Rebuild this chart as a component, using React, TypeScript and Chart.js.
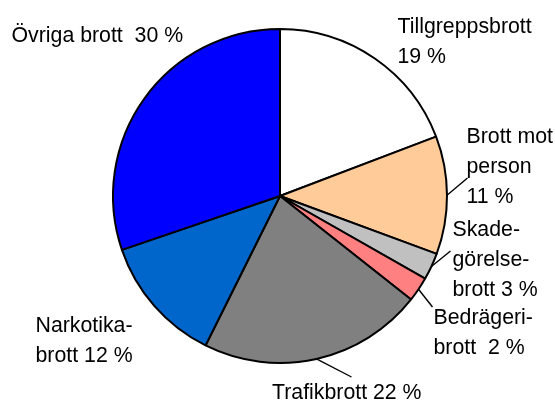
import { useEffect, useRef } from 'react';
import Chart from 'chart.js/auto';

// slices, clockwise from 12 o'clock
const categories = [
  'Tillgreppsbrott',
  'Brott mot person',
  'Skadegörelsebrott',
  'Bedrägeribrott',
  'Trafikbrott',
  'Narkotikabrott',
  'Övriga brott',
];
const shares = [19.2, 11.4, 2.6, 2.4, 21.7, 12.4, 30.2];
const labelLines = [
  ['Tillgreppsbrott', '19 %'],
  ['Brott mot', 'person', '11 %'],
  ['Skade-', 'görelse-', 'brott 3 %'],
  ['Bedrägeri-', 'brott  2 %'],
  ['Trafikbrott 22 %'],
  ['Narkotika-', 'brott 12 %'],
  ['Övriga brott  30 %'],
];
const colors = ['#FFFFFF', '#FFCC99', '#C0C0C0', '#FF8080', '#808080', '#0066CC', '#0000FF'];

// label placement relative to pie centre: first baseline left, optional leader end
const labelPos: { dx: number; dy: number; lx?: number; ly?: number }[] = [
  { dx: 117.5, dy: -163 },
  { dx: 186.5, dy: -53, lx: 187.5, ly: -18 },
  { dx: 172.5, dy: 40, lx: 170.5, ly: 55 },
  { dx: 153.5, dy: 128, lx: 152.5, ly: 111 },
  { dx: -8, dy: 203, lx: 71.5, ly: 181 },
  { dx: -244.5, dy: 136 },
  { dx: -268.5, dy: -154 },
];

const labelPlugin = {
  id: 'sliceLabels',
  afterDraw(chart: any) {
    const ctx = chart.ctx;
    const arcs = chart.getDatasetMeta(0).data;
    ctx.save();
    ctx.font = '21.3px "Liberation Sans", Arial, sans-serif';
    ctx.fillStyle = '#000';
    ctx.textBaseline = 'alphabetic';
    ctx.textAlign = 'left';
    arcs.forEach((arc: any, i: number) => {
      const { x, y, startAngle, endAngle, outerRadius } = arc.getProps(
        ['x', 'y', 'startAngle', 'endAngle', 'outerRadius'],
        true
      );
      const p = labelPos[i];
      labelLines[i].forEach((line, j) => {
        ctx.fillText(line, x + p.dx, y + p.dy + j * 30);
      });
      if (p.lx !== undefined && p.ly !== undefined) {
        const mid = (startAngle + endAngle) / 2;
        ctx.beginPath();
        ctx.moveTo(x + Math.cos(mid) * outerRadius, y + Math.sin(mid) * outerRadius);
        ctx.lineTo(x + p.lx, y + p.ly);
        ctx.strokeStyle = '#000';
        ctx.lineWidth = 1.4;
        ctx.stroke();
      }
    });
    ctx.restore();
  },
};

export default function App() {
  const chartRef = useRef<HTMLCanvasElement | null>(null);

  useEffect(() => {
    const ctx = chartRef.current?.getContext('2d');
    if (!ctx) return;

    const chart = new Chart(ctx, {
      type: 'pie',
      data: {
        labels: categories,
        datasets: [
          {
            data: shares,
            backgroundColor: colors,
            borderColor: '#000000',
            borderWidth: 2,
          },
        ],
      },
      options: {
        responsive: false,
        animation: false,
        layout: {
          padding: { left: 112, right: 107, top: 28, bottom: 37 },
        },
        plugins: {
          legend: { display: false },
          tooltip: { enabled: false },
        },
      },
      plugins: [labelPlugin],
    });

    return () => {
      chart.destroy();
    };
  }, []);

  return (
    <div style={{ position: 'fixed', left: 0, top: 0, width: 555, height: 401, background: '#fff' }}>
      <canvas ref={chartRef} width={555} height={401}></canvas>
    </div>
  );
}
